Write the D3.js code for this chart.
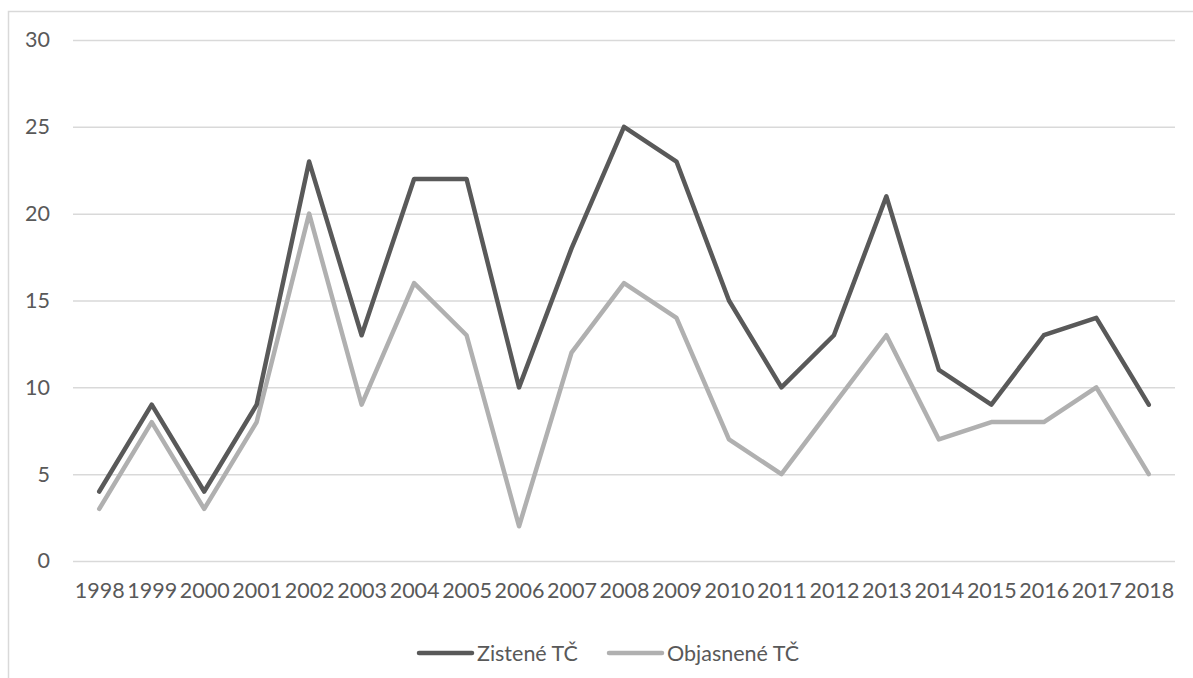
<!DOCTYPE html>
<html>
<head>
<meta charset="utf-8">
<script src="https://cdn.jsdelivr.net/npm/d3@7"></script>
<style>
  body { margin: 0; background: #fff; }
  text { font-family: Lato, "Open Sans", sans-serif; fill: #595959; }
</style>
</head>
<body>
<div id="chart"></div>
<script>
const years = ["1998","1999","2000","2001","2002","2003","2004","2005","2006","2007",
               "2008","2009","2010","2011","2012","2013","2014","2015","2016","2017","2018"];
const zistene = [4, 9, 4, 9, 23, 13, 22, 22, 10, 18, 25, 23, 15, 10, 13, 21, 11, 9, 13, 14, 9];
const objasnene = [3, 8, 3, 8, 20, 9, 16, 13, 2, 12, 16, 14, 7, 5, 9, 13, 7, 8, 8, 10, 5];
const yTicks = [0, 5, 10, 15, 20, 25, 30];

const series = [
  { name: "Zistené TČ", values: zistene, color: "#595959" },
  { name: "Objasnené TČ", values: objasnene, color: "#b0b0b0" }
];

const WIDTH = 1193, HEIGHT = 678;
const PLOT = { LEFT: 73, RIGHT: 1175, TOP: 40, BOTTOM: 561 };
const FONT = "21.5px";

const svg = d3.select("#chart").append("svg")
  .attr("width", WIDTH)
  .attr("height", HEIGHT);

// chart area border (runs off the picture on right and bottom)
svg.append("rect")
  .attr("x", 8.5).attr("y", 11.5)
  .attr("width", 1300).attr("height", 800)
  .attr("fill", "none")
  .attr("stroke", "#d9d9d9")
  .attr("stroke-width", 1.5);

const x = d3.scalePoint()
  .domain(years)
  .range([PLOT.LEFT, PLOT.RIGHT])
  .padding(0.5);

const y = d3.scaleLinear()
  .domain([0, 30])
  .range([PLOT.BOTTOM, PLOT.TOP]);

// gridlines + y labels
const yAxis = svg.append("g")
  .attr("transform", `translate(${PLOT.LEFT},0)`)
  .call(d3.axisLeft(y).tickValues(yTicks).tickSize(-(PLOT.RIGHT - PLOT.LEFT)).tickPadding(23));
yAxis.select(".domain").remove();
yAxis.selectAll(".tick line").attr("stroke", "#d9d9d9").attr("stroke-width", 1.5);
yAxis.selectAll(".tick text")
  .style("font-size", FONT)
  .attr("fill", "#595959");

// x labels
const xAxis = svg.append("g")
  .attr("transform", `translate(0,${PLOT.BOTTOM})`)
  .call(d3.axisBottom(x).tickSize(0).tickPadding(22));
xAxis.select(".domain").remove();
xAxis.selectAll(".tick text")
  .style("font-size", FONT)
  .attr("fill", "#595959");

// lines (light series under dark one)
const line = d3.line()
  .x((d, i) => x(years[i]))
  .y(d => y(d));

series.slice().reverse().forEach(s => {
  svg.append("path")
    .datum(s.values)
    .attr("d", line)
    .attr("fill", "none")
    .attr("stroke", s.color)
    .attr("stroke-width", 4.5)
    .attr("stroke-linejoin", "round")
    .attr("stroke-linecap", "round");
});

// legend
const legendY = 653;
const legendX = [419, 609];
series.forEach((s, i) => {
  const g = svg.append("g").attr("transform", `translate(${legendX[i]},${legendY})`);
  g.append("line")
    .attr("x1", 0).attr("x2", 53)
    .attr("y1", 0).attr("y2", 0)
    .attr("stroke", s.color)
    .attr("stroke-width", 4.5)
    .attr("stroke-linecap", "round");
  g.append("text")
    .attr("x", 58)
    .attr("y", 0)
    .attr("dy", "0.35em")
    .style("font-size", FONT)
    .text(s.name);
});
</script>
</body>
</html>
